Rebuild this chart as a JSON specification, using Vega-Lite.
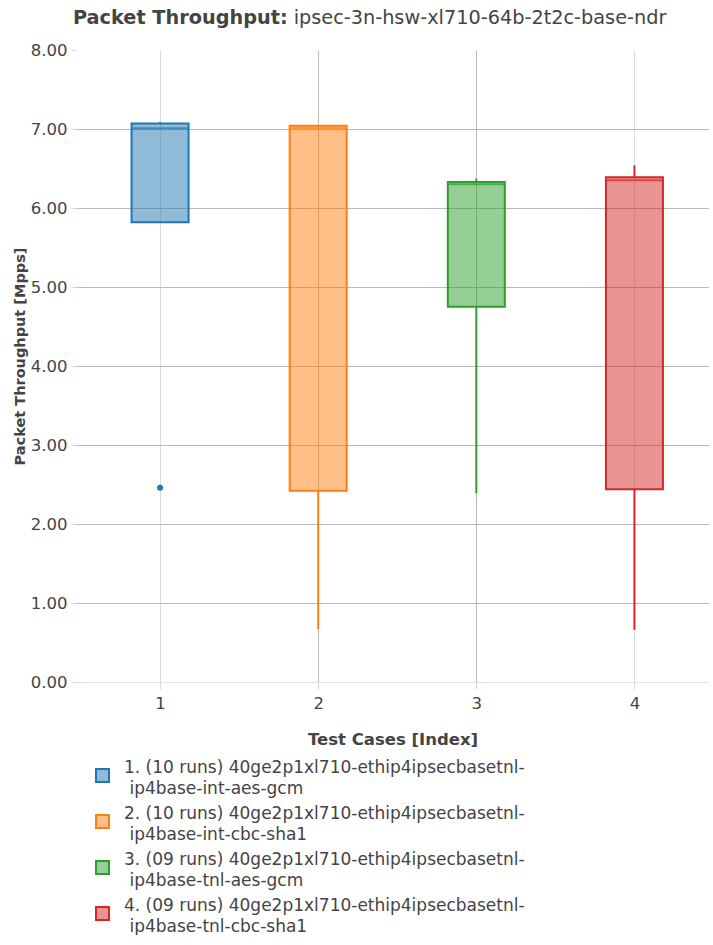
{
  "$schema": "https://vega.github.io/schema/vega-lite/v6.json",
  "width": 633,
  "height": 632,
  "padding": {"left": 12, "top": 8, "right": 0, "bottom": 0},
  "autosize": {"type": "pad"},
  "background": "white",
  "config": {
    "font": "DejaVu Sans",
    "view": {"stroke": null},
    "axis": {
      "labelFont": "DejaVu Sans",
      "labelColor": "#444444",
      "labelFontSize": 16.5,
      "titleFont": "DejaVu Sans",
      "titleColor": "#444444",
      "titleFontWeight": "bold",
      "domain": false,
      "tickColor": "#d8d8d8",
      "gridWidth": 1
    },
    "legend": {
      "labelFont": "DejaVu Sans",
      "labelFontSize": 17,
      "labelColor": "#444444",
      "labelLimit": 700,
      "padding": 0
    }
  },
  "title": {
    "text": "Packet Throughput:",
    "subtitle": "\u200b\u00a0\u00a0\u00a0\u00a0\u00a0\u00a0\u00a0\u00a0\u00a0\u00a0\u00a0\u00a0\u00a0\u00a0\u00a0\u00a0\u00a0\u00a0\u00a0\u00a0\u00a0\u00a0\u00a0\u00a0\u00a0\u00a0\u00a0\u00a0\u00a0\u00a0\u00a0\u00a0\u00a0\u00a0\u00a0\u00a0ipsec-3n-hsw-xl710-64b-2t2c-base-ndr",
    "anchor": "start",
    "frame": "group",
    "dx": -3,
    "font": "DejaVu Sans",
    "fontSize": 19.3,
    "fontWeight": "bold",
    "color": "#444444",
    "subtitleFont": "DejaVu Sans",
    "subtitleFontSize": 19.3,
    "subtitleFontWeight": "normal",
    "subtitleColor": "#444444",
    "subtitlePadding": -19.3,
    "offset": 14
  },
  "datasets": {
    "boxes": [
      {"idx": 1, "series": "1. (10 runs) 40ge2p1xl710-ethip4ipsecbasetnl-ip4base-int-aes-gcm", "lower": 5.82, "q1": 5.82, "median": 7.01, "q3": 7.07, "upper": 7.09},
      {"idx": 2, "series": "2. (10 runs) 40ge2p1xl710-ethip4ipsecbasetnl-ip4base-int-cbc-sha1", "lower": 0.67, "q1": 2.42, "median": 7.01, "q3": 7.04, "upper": 7.04},
      {"idx": 3, "series": "3. (09 runs) 40ge2p1xl710-ethip4ipsecbasetnl-ip4base-tnl-aes-gcm", "lower": 2.39, "q1": 4.75, "median": 6.30, "q3": 6.33, "upper": 6.37},
      {"idx": 4, "series": "4. (09 runs) 40ge2p1xl710-ethip4ipsecbasetnl-ip4base-tnl-cbc-sha1", "lower": 0.66, "q1": 2.44, "median": 6.35, "q3": 6.39, "upper": 6.54}
    ],
    "outliers": [
      {"idx": 1, "series": "1. (10 runs) 40ge2p1xl710-ethip4ipsecbasetnl-ip4base-int-aes-gcm", "value": 2.46}
    ]
  },
  "encoding": {
    "x": {
      "field": "idx",
      "type": "quantitative",
      "scale": {"domain": [0.5, 4.44], "nice": false, "zero": false},
      "axis": {
        "title": "Test Cases [Index]",
        "titleFontSize": 16.5,
        "values": [1, 2, 3, 4],
        "format": "d",
        "grid": true,
        "gridColor": {"condition": {"test": "datum.value == 2 || datum.value == 3", "value": "#b8b8b8"}, "value": "#dcdcdc"},
        "tickSize": 7,
        "labelPadding": 6,
        "titlePadding": 20
      }
    }
  },
  "layer": [
    {
      "data": {"name": "boxes"},
      "mark": {"type": "rule", "strokeWidth": 2},
      "encoding": {
        "y": {"field": "lower", "type": "quantitative", "scale": {"domain": [0, 8], "nice": false, "zero": false}},
        "y2": {"field": "q1"},
        "color": {"field": "series", "type": "nominal", "scale": {"range": ["#1f77b4", "#ff7f0e", "#2ca02c", "#d62728"]}}
      }
    },
    {
      "data": {"name": "boxes"},
      "mark": {"type": "rule", "strokeWidth": 2},
      "encoding": {
        "y": {"field": "q3", "type": "quantitative"},
        "y2": {"field": "upper"},
        "color": {"field": "series", "type": "nominal"}
      }
    },
    {
      "data": {"name": "boxes"},
      "mark": {"type": "bar", "width": 57, "fillOpacity": 0.5, "strokeWidth": 2},
      "encoding": {
        "y": {
          "field": "q1",
          "type": "quantitative",
          "axis": {
            "title": "Packet Throughput [Mpps]",
            "titleFontSize": 14.5,
            "titleY": 306,
            "values": [0, 1, 2, 3, 4, 5, 6, 7, 8],
            "format": ".2f",
            "grid": true,
            "gridColor": {"condition": {"test": "datum.value == 0", "value": "#e2e2e2"}, "value": "#b8b8b8"},
            "gridOpacity": {"condition": {"test": "datum.value == 8", "value": 0}, "value": 1},
            "tickSize": 5,
            "labelPadding": 4,
            "titlePadding": 3
          }
        },
        "y2": {"field": "q3"},
        "color": {
          "field": "series",
          "type": "nominal",
          "legend": {
            "title": null,
            "orient": "none",
            "legendX": 18,
            "legendY": 717,
            "symbolType": "square",
            "symbolSize": 169,
            "symbolStrokeWidth": 2,
            "rowPadding": 7,
            "labelOffset": 13,
            "labelExpr": "[substring(datum.label, 0, 45), '\u200b\u00a0' + substring(datum.label, 45)]",
            "encoding": {
              "labels": {"lineHeight": {"value": 21}, "dy": {"value": -8}},
              "symbols": {
                "fillOpacity": {"value": 0.5},
                "stroke": {"value": {"expr": "scale('color', datum.value)"}},
                "strokeOpacity": {"value": 1},
                "strokeWidth": {"value": 2}
              }
            }
          }
        },
        "stroke": {
          "field": "series",
          "type": "nominal",
          "scale": {"range": ["#1f77b4", "#ff7f0e", "#2ca02c", "#d62728"]},
          "legend": null
        }
      }
    },
    {
      "data": {"name": "boxes"},
      "mark": {"type": "tick", "orient": "horizontal", "size": 57, "thickness": 2},
      "encoding": {
        "y": {"field": "median", "type": "quantitative"},
        "color": {"field": "series", "type": "nominal"}
      }
    },
    {
      "data": {"name": "outliers"},
      "mark": {"type": "point", "filled": true, "opacity": 1, "size": 36},
      "encoding": {
        "y": {"field": "value", "type": "quantitative"},
        "color": {"field": "series", "type": "nominal"}
      }
    }
  ]
}
